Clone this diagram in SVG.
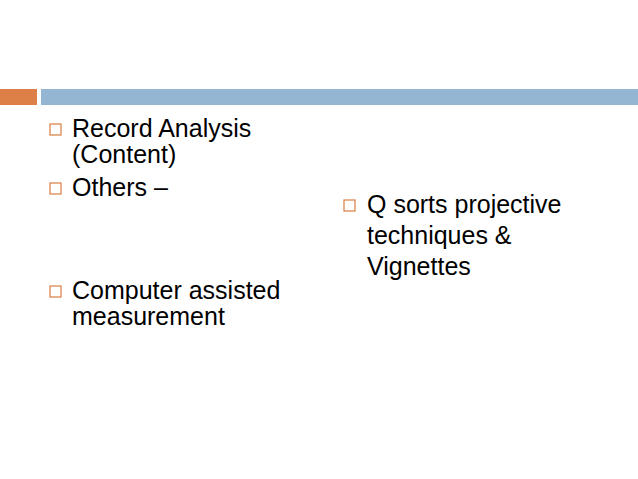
<svg xmlns="http://www.w3.org/2000/svg" width="638" height="479" viewBox="0 0 638 479">
<style>
.t{font-family:"Liberation Sans",Arial,sans-serif;font-size:25px;fill:#000}
.b{fill:none;stroke:#d97c40;stroke-width:1.2}
</style>
<rect width="638" height="479" fill="#fff"/>
<rect x="0" y="89" width="37" height="16" fill="#dd8047"/>
<rect x="41" y="89" width="597" height="16" fill="#94b6d2"/>
<g id="n1"><rect class="b" x="50" y="124" width="11" height="11"/><text class="t" x="72" y="137">Record Analysis</text><text class="t" x="72" y="163">(Content)</text></g>
<g id="n2"><rect class="b" x="50" y="183" width="11" height="11"/><text class="t" x="72" y="196">Others –</text></g>
<g id="n3"><rect class="b" x="50" y="286" width="11" height="11"/><text class="t" x="72" y="299">Computer assisted</text><text class="t" x="72" y="325">measurement</text></g>
<g id="n4"><rect class="b" x="344" y="200" width="11" height="11"/><text class="t" x="367" y="213">Q sorts projective</text><text class="t" x="367" y="244">techniques &amp;</text><text class="t" x="367" y="275">Vignettes</text></g>
<g id="connectors"/>
</svg>
